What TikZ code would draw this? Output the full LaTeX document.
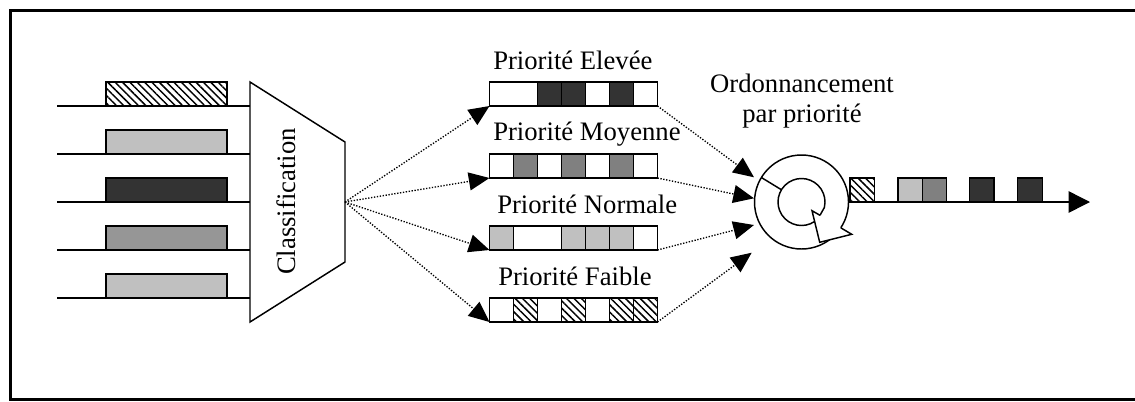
\documentclass[tikz,border=0pt]{standalone}
\usepackage{fontspec}
\setmainfont{Liberation Serif}
\usetikzlibrary{arrows.meta,patterns.meta}
\definecolor{dk}{HTML}{333333}
\definecolor{md}{HTML}{808080}
\definecolor{mi}{HTML}{969696}
\definecolor{lt}{HTML}{C0C0C0}
\tikzset{
 pkt/.style={draw=black,line width=1.1pt},
 hatchbox/.style={pkt,preaction={fill=white},pattern={Lines[angle=-45,distance=3.9pt,line width=1.1pt]}},
 dotarrow/.style={line width=1pt,dash pattern=on 1pt off 1.2pt,-{Triangle[length=15.5pt,width=13.5pt]}},
 lbl/.style={font=\fontsize{20}{23}\selectfont,inner sep=0pt},
 thin/.style={line width=0.8pt},
}
\begin{document}
\begin{tikzpicture}[x=0.75pt,y=-0.75pt]
\useasboundingbox (0,0) rectangle (1135,401);
\draw[line width=1.6pt] (10.5,10.5) rectangle (1150,399.5);

% input lines and packets
\foreach \y in {106,154,202,250,298} \draw[thin] (57,\y) -- (250,\y);
\draw[hatchbox] (106,82) rectangle (227,106);
\draw[pkt,fill=lt] (106,130) rectangle (227,154);
\draw[pkt,fill=dk] (106,178) rectangle (227,202);
\draw[pkt,fill=mi] (106,226) rectangle (227,250);
\draw[pkt,fill=lt] (106,274) rectangle (227,298);

% classifier
\draw[pkt,fill=white] (250,82) -- (345,142) -- (345,262) -- (250,322) -- cycle;
\coordinate (cls) at (345,202);
\node[lbl,rotate=90,anchor=base] (clsl) at (295,201.5) {Classification};

% queues
\coordinate (q1) at (489.5,106); \coordinate (r1) at (657.5,106);
\coordinate (q2) at (489.5,178); \coordinate (r2) at (657.5,178);
\coordinate (q3) at (489.5,250); \coordinate (r3) at (657.5,250);
\coordinate (q4) at (489.5,322); \coordinate (r4) at (657.5,322);

\draw[pkt,fill=white] (489.5,82) rectangle (657.5,106);
\foreach \i/\c in {2/dk,3/dk,4/white,5/dk,6/white}
  \draw[pkt,fill=\c] ({489.5+24*\i},82) rectangle ++(24,24);

\draw[pkt,fill=white] (489.5,154) rectangle (657.5,178);
\foreach \i/\c in {0/white,1/md,2/white,3/md,4/white,5/md,6/white}
  \draw[pkt,fill=\c] ({489.5+24*\i},154) rectangle ++(24,24);

\draw[pkt,fill=white] (489.5,226) rectangle (657.5,250);
\foreach \i/\c in {0/lt,3/lt,4/lt,5/lt,6/white}
  \draw[pkt,fill=\c] ({489.5+24*\i},226) rectangle ++(24,24);

\draw[pkt,fill=white] (489.5,298) rectangle (657.5,322);
\foreach \i in {0,2,4}
  \draw[pkt,fill=white] ({489.5+24*\i},298) rectangle ++(24,24);
\foreach \i in {1,3,5,6}
  \draw[hatchbox] ({489.5+24*\i},298) rectangle ++(24,24);

\node[lbl,anchor=base west] (l1) at (493,69) {Priorité Elevée};
\node[lbl,anchor=base west] (l2) at (493,140) {Priorité Moyenne};
\node[lbl,anchor=base west] (l3) at (497,213) {Priorité Normale};
\node[lbl,anchor=base west] (l4) at (498,285) {Priorité Faible};

% classifier -> queues
\foreach \k in {1,2,3,4} \draw[dotarrow] (cls) -- (q\k);

% scheduler
\node[circle,draw,line width=1.1pt,fill=white,minimum size=70.5pt,inner sep=0pt] (sched) at (801.5,202) {};
\fill[white] (812,210.7) -- (819.7,242.3) -- (851.7,234.3) -- cycle;
\draw[line width=1.1pt,line join=miter] (820,215.3) -- (812,210.7) -- (819.7,242.3) -- (851.7,234.3) -- (840.8,227.8);
\draw[line width=1.1pt] (801.5,202) ++(56.4:23.5) arc[start angle=56.4,end angle=373.5,radius=23.5] -- (820,215.3);
\draw[line width=1.1pt] (801.5,202) ++(211.4:47) -- ++(31.4:23.5);
\node[lbl,anchor=base] (ord1) at (802,92) {Ordonnancement};
\node[lbl,anchor=base] (ord2) at (802,122.7) {par priorité};

\coordinate (t1) at (754,177.3);
\coordinate (t2) at (754,198.3);
\coordinate (t3) at (754,225);
\coordinate (t4) at (751.7,252.7);
\foreach \k in {1,2,3,4} \draw[dotarrow] (r\k) -- (t\k);

% output
\coordinate (out) at (1090,202);
\draw[line width=1.1pt,-{Triangle[length=16pt,width=16pt]}] (sched.east) -- (out);
\draw[hatchbox] (850,178) rectangle (874.5,202);
\draw[pkt,fill=lt] (898,178) rectangle (922.3,202);
\draw[pkt,fill=md] (922.3,178) rectangle (946.7,202);
\draw[pkt,fill=dk] (969.5,178) rectangle (994,202);
\draw[pkt,fill=dk] (1017.5,178) rectangle (1042.5,202);
\end{tikzpicture}
\end{document}
